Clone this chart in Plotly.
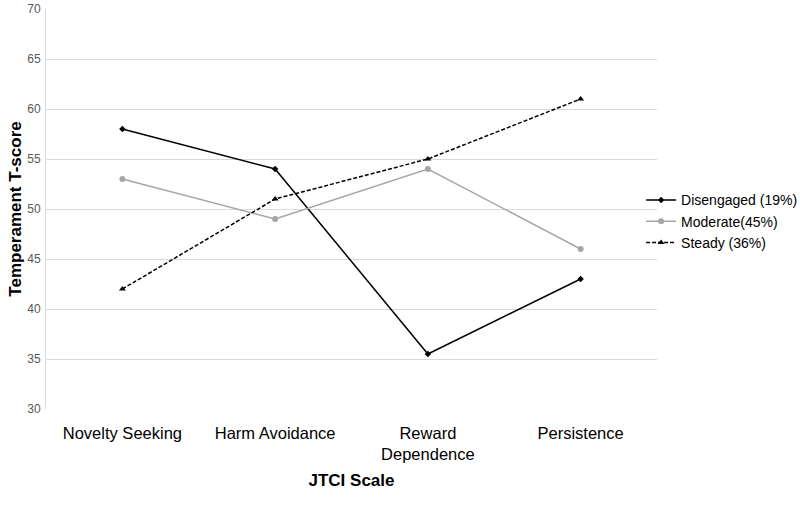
import plotly.graph_objects as go

categories = ["Novelty Seeking", "Harm Avoidance", "Reward<br>Dependence", "Persistence"]
disengaged = [58, 54, 35.5, 43]
moderate = [53, 49, 54, 46]
steady = [42, 51, 55, 61]
y_ticks = [30, 35, 40, 45, 50, 55, 60, 65, 70]

fig = go.Figure()
fig.add_trace(go.Scatter(x=categories, y=disengaged, name="Disengaged (19%)", mode="lines+markers",
                         line=dict(color="#000000", width=1.5),
                         marker=dict(symbol="diamond", size=5, color="#000000")))
fig.add_trace(go.Scatter(x=categories, y=moderate, name="Moderate(45%)", mode="lines+markers",
                         line=dict(color="#a6a6a6", width=1.5),
                         marker=dict(symbol="circle", size=6, color="#a6a6a6")))
fig.add_trace(go.Scatter(x=categories, y=steady, name="Steady (36%)", mode="lines+markers",
                         line=dict(color="#000000", width=1.5, dash="4px,2px"),
                         marker=dict(symbol="triangle-up", size=6, color="#000000")))

fig.update_layout(
    width=800, height=505,
    margin=dict(l=46, r=143, t=9, b=96, autoexpand=False),
    paper_bgcolor="white", plot_bgcolor="white",
    font=dict(family="Liberation Sans, Arial, sans-serif", color="#000000"),
    showlegend=True,
    legend=dict(x=0.974, y=0.469, xanchor="left", yanchor="middle",
                bgcolor="rgba(0,0,0,0)",
                font=dict(size=14, color="#000000"), tracegroupgap=0, itemwidth=30),
    xaxis=dict(
        type="category", range=[-0.5, 3.5],
        showgrid=False, showline=False, zeroline=False,
        ticks="outside", ticklen=9, tickcolor="rgba(0,0,0,0)",
        tickfont=dict(size=16.5, color="#000000"),
        title=dict(text="<b>JTCI Scale</b>", font=dict(size=17, color="#000000"), standoff=11),
    ),
    yaxis=dict(
        range=[30, 70], tickvals=y_ticks,
        showgrid=True, gridcolor="#d9d9d9", gridwidth=1,
        showline=True, linecolor="#d9d9d9", zeroline=False,
        ticks="outside", ticklen=2, tickcolor="rgba(0,0,0,0)",
        tickfont=dict(size=12, color="#595959"),
        title=dict(text="<b>Temperament T-score</b>", font=dict(size=17, color="#000000"), standoff=1),
    ),
)

fig.write_html("out.html", config={"displayModeBar": False},
               post_script="document.body.style.margin='0';document.body.style.overflow='hidden';")
